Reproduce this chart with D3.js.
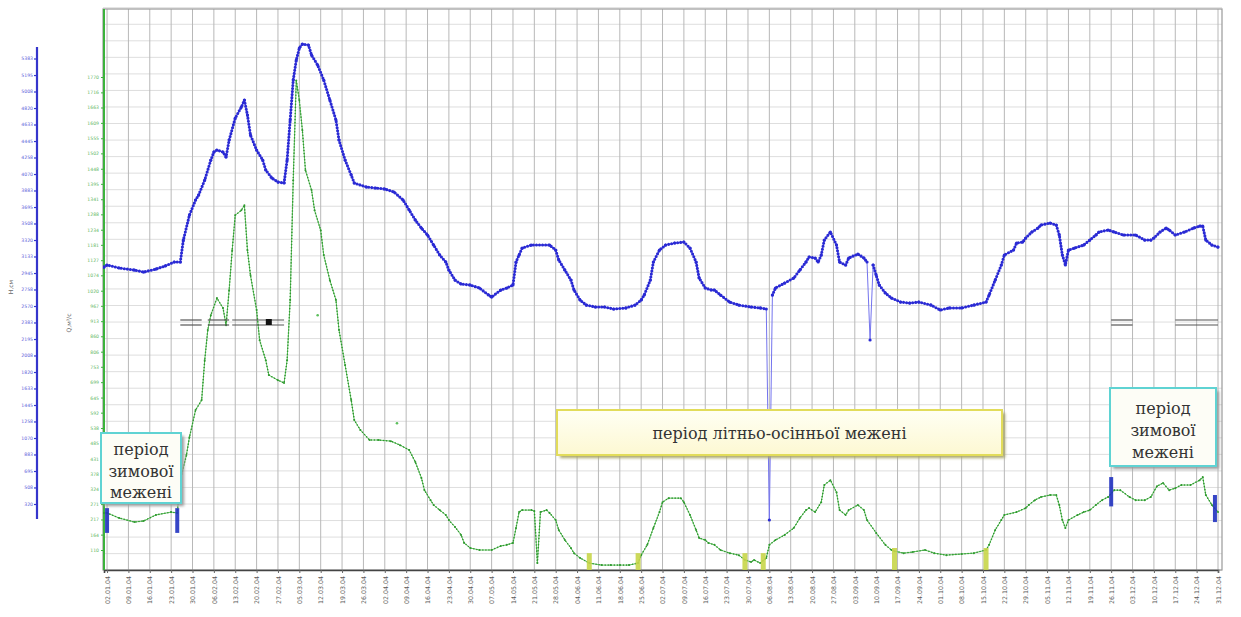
<!DOCTYPE html>
<html><head><meta charset="utf-8">
<script src="https://cdn.jsdelivr.net/npm/d3@7"></script>
<style>body{margin:0;background:#fff}svg{display:block}</style>
</head><body>
<svg id="chart" width="1241" height="617"></svg>
<script>
// Water level H, cm — day of year 2004 (0 = 1 Jan) and value
const levelDays = [0,1,5,10,13,17,20,23,25,26,28,30,31,33,35,36,37,39,40,41,43,45,46,47,48,50,52,53,55,57,59,60,61,62,63,64,65,67,68,70,72,74,76,77,79,81,82,86,89,92,95,98,100,102,104,106,108,110,112,113,115,117,120,123,126,127,130,132,134,135,136,137,140,146,148,149,151,153,154,156,158,161,164,167,171,174,176,177,179,180,182,184,187,190,192,194,195,197,199,200,202,205,208,212,215,217,218,219,220,223,226,228,230,231,233,234,235,236,238,240,241,243,244,247,249,250,251,252,253,254,256,258,261,264,267,271,274,277,281,285,289,290,292,294,295,298,299,301,302,304,306,307,310,312,313,314,315,316,318,321,323,325,326,329,331,334,338,341,343,344,346,348,349,351,354,357,359,360,361,363,365];
const levelValues = [3013,3036,3002,2979,2956,2990,3025,3070,3070,3320,3604,3775,3831,4002,4229,4320,4343,4320,4263,4456,4706,4831,4911,4740,4513,4343,4229,4115,4025,3979,3968,4229,4684,5138,5365,5502,5547,5536,5422,5309,5138,4911,4684,4456,4229,4059,3968,3922,3911,3900,3866,3775,3661,3547,3456,3377,3263,3150,3070,2979,2865,2820,2809,2775,2695,2672,2752,2775,2809,3070,3150,3229,3263,3263,3206,3093,2979,2865,2752,2638,2581,2559,2559,2536,2548,2581,2638,2695,2865,3070,3206,3263,3286,3297,3229,3070,2888,2775,2752,2752,2695,2615,2581,2559,2548,2536,138,2695,2775,2831,2888,2979,3070,3127,3115,3070,3150,3320,3411,3263,3070,3036,3115,3161,3115,3070,2184,3036,2922,2809,2718,2661,2615,2604,2615,2581,2525,2548,2548,2581,2615,2695,2865,3036,3150,3206,3286,3297,3343,3411,3456,3491,3513,3491,3377,3150,3036,3206,3229,3263,3320,3377,3411,3434,3411,3377,3377,3320,3320,3343,3411,3456,3434,3377,3411,3456,3479,3479,3320,3263,3240];

// Discharge Q, m³/s — day of year 2004 and value
const flowDays = [0,1,5,10,13,17,22,24,25,27,28,30,32,33,34,35,37,39,40,41,42,43,45,46,47,48,50,51,53,54,57,59,60,61,62,63,64,65,66,68,69,71,72,74,76,77,79,81,82,84,87,90,94,97,100,102,104,105,107,108,110,112,113,115,117,118,120,123,127,130,132,134,135,136,137,140,141,142,143,145,146,148,149,151,153,154,156,159,163,166,169,172,175,176,178,180,182,183,185,189,190,192,194,195,197,198,200,202,205,208,210,212,213,215,217,218,220,223,226,228,230,231,233,235,236,238,240,241,243,244,247,249,250,253,256,258,259,262,265,269,272,276,281,285,289,290,292,294,295,299,302,303,305,307,310,312,313,314,315,316,319,321,323,325,327,329,331,333,336,338,341,343,345,347,349,351,353,356,359,360,361,363,365];
const flowValues = [240,240,222,208,212,233,243,240,355,443,506,601,636,776,882,934,994,959,899,1022,1162,1285,1302,1320,1162,1074,952,846,776,724,706,696,776,987,1408,1758,1688,1583,1443,1373,1302,1232,1145,1057,987,882,759,636,566,531,496,496,492,478,461,419,363,320,285,268,250,233,215,191,163,135,117,110,110,124,128,135,187,243,250,250,247,64,243,250,240,215,180,145,117,99,82,64,57,57,57,57,64,92,128,187,243,278,292,292,278,233,180,152,145,135,128,110,99,92,75,68,75,64,82,128,145,163,187,222,250,257,243,278,338,355,313,250,233,250,268,250,215,170,128,110,106,99,103,110,99,92,96,99,110,128,180,215,233,243,257,268,285,296,303,303,268,215,187,215,233,243,250,268,285,296,320,320,296,285,285,296,334,345,320,327,338,338,355,366,303,268,243];

// Separate off-trend discharge readings
const flowOutlierDays = [70, 96];
const flowOutlierValues = [934, 555];

// Axis tick labels
const levelTicks = [320,508,695,883,1070,1258,1445,1633,1820,2008,2195,2383,2570,2758,2945,3133,3320,3508,3695,3883,4070,4258,4445,4633,4820,5008,5195,5383];
const flowTicks = [110,164,217,271,324,378,431,485,538,592,645,699,753,806,860,913,967,1020,1074,1127,1181,1234,1288,1341,1395,1448,1502,1555,1609,1663,1716,1770];
const dateTickLabels = ["02.01.04","09.01.04","16.01.04","23.01.04","30.01.04","06.02.04","13.02.04","20.02.04","27.02.04","05.03.04","12.03.04","19.03.04","26.03.04","02.04.04","09.04.04","16.04.04","23.04.04","30.04.04","07.05.04","14.05.04","21.05.04","28.05.04","04.06.04","11.06.04","18.06.04","25.06.04","02.07.04","09.07.04","16.07.04","23.07.04","30.07.04","06.08.04","13.08.04","20.08.04","27.08.04","03.09.04","10.09.04","17.09.04","24.09.04","01.10.04","08.10.04","15.10.04","22.10.04","29.10.04","05.11.04","12.11.04","19.11.04","26.11.04","03.12.04","10.12.04","17.12.04","24.12.04","31.12.04"];

// Low-water period captions
const winterLabel = ["період", "зимової", "межені"];
const summerLabel = "період літньо-осінньої межені";

const parseTick = d3.timeParse("%d.%m.%y");
const year0 = new Date(2004, 0, 1);
const dayDate = d => d3.timeDay.offset(year0, d);

const svg = d3.select("#chart");
const pL = 103, pR = 1222, pT = 9, pB = 570;

const x = d3.scaleTime().domain([year0, new Date(2004, 11, 31)]).range([104, 1218]);
const yLevel = d3.scaleLinear().domain([320, 5383]).range([504, 58.5]);
const yFlow = d3.scaleLinear().domain([110, 1770]).range([550, 77]);

const defs = svg.append("defs");
defs.append("filter").attr("id", "soft").attr("x", "-20%").attr("y", "-20%").attr("width", "140%").attr("height", "140%")
  .append("feGaussianBlur").attr("stdDeviation", 1.6);
defs.append("clipPath").attr("id", "plot").append("rect")
  .attr("x", pL).attr("y", pT).attr("width", pR - pL).attr("height", pB - pT + 8);
const grad = defs.append("linearGradient").attr("id", "yellowFill").attr("x1", 0).attr("y1", 0).attr("x2", 0).attr("y2", 1);
grad.append("stop").attr("offset", "0%").attr("stop-color", "#fffff4");
grad.append("stop").attr("offset", "100%").attr("stop-color", "#fdf8d2");

// Horizontal grid, one line per level step
const step = levelTicks[1] - levelTicks[0];
const gridVals = d3.range(-4, 31).map(k => levelTicks[0] + k * step);
svg.append("g").selectAll("line").data(gridVals).join("line")
  .attr("x1", pL).attr("x2", pR)
  .attr("y1", d => yLevel(d)).attr("y2", d => yLevel(d))
  .attr("stroke", "#dedede").attr("stroke-width", 1);

// Vertical grid at weekly ticks
const tickDates = dateTickLabels.map(parseTick);
svg.append("g").selectAll("line").data(tickDates).join("line")
  .attr("x1", d => x(d)).attr("x2", d => x(d))
  .attr("y1", pT).attr("y2", pB)
  .attr("stroke", "#b8b8b8").attr("stroke-width", 1);

// Plot frame
svg.append("rect").attr("x", pL).attr("y", pT).attr("width", pR - pL).attr("height", pB - pT)
  .attr("fill", "none").attr("stroke", "#9a9a9a").attr("stroke-width", 1.2);

// X axis
const xAxis = svg.append("g").attr("transform", `translate(0,${pB})`)
  .call(d3.axisBottom(x).tickValues(tickDates).tickSize(3).tickFormat(d3.timeFormat("%d.%m.%y")));
xAxis.select(".domain").attr("stroke", "#444").attr("stroke-width", 1.6);
xAxis.selectAll(".tick line").attr("stroke", "#666");
xAxis.selectAll("text")
  .attr("transform", "rotate(-90)").attr("text-anchor", "end")
  .attr("x", -6).attr("y", 0).attr("dy", "0.35em")
  .attr("font-family", "DejaVu Sans").attr("font-size", 6.3).attr("fill", "#5a5a5a");

// Level axis (blue)
const lAxis = svg.append("g").attr("transform", "translate(37,0)")
  .call(d3.axisLeft(yLevel).tickValues(levelTicks).tickSize(3).tickFormat(d3.format("d")));
lAxis.select(".domain").remove();
lAxis.append("line").attr("x1", 0).attr("x2", 0).attr("y1", 47).attr("y2", 519)
  .attr("stroke", "#3535cc").attr("stroke-width", 2.2);
lAxis.selectAll(".tick line").attr("stroke", "#3535cc").attr("stroke-width", 1.2);
lAxis.selectAll("text").attr("font-family", "DejaVu Sans").attr("font-size", 4.6).attr("fill", "#5a5ad8").attr("x", -4);

// Discharge axis (green)
const fAxis = svg.append("g").attr("transform", `translate(${pL + 1},0)`)
  .call(d3.axisLeft(yFlow).tickValues(flowTicks).tickSize(3).tickFormat(d3.format("d")));
fAxis.select(".domain").remove();
fAxis.append("line").attr("x1", 0).attr("x2", 0).attr("y1", pT).attr("y2", pB)
  .attr("stroke", "#3cb33c").attr("stroke-width", 2);
fAxis.selectAll(".tick line").attr("stroke", "#3cb33c");
fAxis.selectAll("text").attr("font-family", "DejaVu Sans").attr("font-size", 4.6).attr("fill", "#5fb75f").attr("x", -5);

// Axis titles
svg.append("text").attr("transform", "translate(13,287) rotate(-90)").attr("text-anchor", "middle")
  .attr("font-family", "DejaVu Sans").attr("font-size", 6).attr("fill", "#666").text("Н,см");
svg.append("text").attr("transform", "translate(71,323) rotate(-90)").attr("text-anchor", "middle")
  .attr("font-family", "DejaVu Sans").attr("font-size", 6).attr("fill", "#666").text("Q,м³/с");

const plot = svg.append("g").attr("clip-path", "url(#plot)");

// Discharge series: thin line with a dotted trace
const flow = flowDays.map((d, i) => ({ date: dayDate(d), v: flowValues[i] }));
const flowLine = d3.line().x(d => x(d.date)).y(d => yFlow(d.v));
plot.append("path").datum(flow).attr("d", flowLine)
  .attr("fill", "none").attr("stroke", "#62c262").attr("stroke-width", 1);
plot.append("path").datum(flow).attr("d", flowLine)
  .attr("fill", "none").attr("stroke", "#2f962f").attr("stroke-width", 1.6)
  .attr("stroke-linecap", "round").attr("stroke-dasharray", "0,3.05");
plot.append("g").selectAll("circle").data(flow).join("circle")
  .attr("cx", d => x(d.date)).attr("cy", d => yFlow(d.v)).attr("r", 1).attr("fill", "#2f9a2f");
plot.append("g").selectAll("circle").data(flowOutlierDays).join("circle")
  .attr("cx", (d) => x(dayDate(d))).attr("cy", (d, i) => yFlow(flowOutlierValues[i]))
  .attr("r", 1.3).attr("fill", "#5cbf5c");

// Level series: chain of dots; single-day drops keep only the thin connector
const level = levelDays.map((d, i) => ({ date: dayDate(d), v: levelValues[i] }));
level.forEach((p, i) => {
  const a = level[i - 1], b = level[i + 1];
  p.drop = !!(a && b && a.v - p.v > 500 && b.v - p.v > 500);
});
const levelLine = d3.line().x(d => x(d.date)).y(d => yLevel(d.v));
plot.append("path").datum(level).attr("d", levelLine)
  .attr("fill", "none").attr("stroke", "#7474ee").attr("stroke-width", 1);
plot.append("path").datum(level).attr("d", levelLine.defined(d => !d.drop))
  .attr("fill", "none").attr("stroke", "#2a2ad4").attr("stroke-width", 3.1)
  .attr("stroke-linecap", "round").attr("stroke-dasharray", "0,3.05");
plot.append("g").selectAll("circle").data(level).join("circle")
  .attr("cx", d => x(d.date)).attr("cy", d => yLevel(d.v)).attr("r", 1.6).attr("fill", "#2a2ad4");

// Low-water period boundary markers
const bar = (d, v0, v1, color, w, scale) => svg.append("line")
  .attr("x1", x(dayDate(d))).attr("x2", x(dayDate(d)))
  .attr("y1", scale(v0)).attr("y2", scale(v1))
  .attr("stroke", color).attr("stroke-width", w).attr("opacity", 0.9);
[[1, 257, 170], [24, 257, 170], [330, 366, 263], [364, 303, 208]]
  .forEach(([d, a, b]) => bar(d, a, b, "#2233c0", 4, yFlow));
[[159, 99, 40], [175, 99, 40], [210, 99, 40], [216, 99, 40], [259, 117, 40], [289, 117, 40]]
  .forEach(([d, a, b]) => bar(d, a, b, "#c8d64a", 5, yFlow));

// Break marks on the level line
const breakMarks = [[25, 32], [34, 41], [42, 59], [330, 337], [351, 365]];
breakMarks.forEach(([a, b]) => {
  [320, 325].forEach(yy => svg.append("line")
    .attr("x1", x(dayDate(a))).attr("x2", x(dayDate(b))).attr("y1", yy).attr("y2", yy)
    .attr("stroke", "#555").attr("stroke-width", 1.2));
});
svg.append("rect").attr("x", x(dayDate(54)) - 3).attr("y", 319).attr("width", 6).attr("height", 6).attr("fill", "#111");

// Caption boxes
function captionBox(x0, y0, w, h, stroke, fill, shadow, lines, lineGap, shiftY) {
  const g = svg.append("g");
  g.append("rect").attr("x", x0 + 3).attr("y", y0 + 3).attr("width", w).attr("height", h)
    .attr("fill", shadow).attr("filter", "url(#soft)");
  g.append("rect").attr("x", x0).attr("y", y0).attr("width", w).attr("height", h)
    .attr("fill", fill).attr("stroke", stroke).attr("stroke-width", 2);
  const cy = y0 + h / 2 - (lines.length - 1) * lineGap / 2 + shiftY;
  lines.forEach((t, i) => g.append("text")
    .attr("x", x0 + w / 2).attr("y", cy + i * lineGap).attr("dy", "0.35em")
    .attr("text-anchor", "middle").attr("font-family", "DejaVu Serif").attr("font-size", 16)
    .attr("fill", "#333").text(t));
}
captionBox(101, 433, 80, 70, "#5fd3d3", "#fdfdf6", "#9a9a9a", winterLabel, 21.5, 3);
captionBox(1110, 388, 106, 78, "#5fd3d3", "#fdfdf6", "#9a9a9a", winterLabel, 22, 3);
captionBox(557, 410, 445, 45, "#e2dc5a", "url(#yellowFill)", "#a9a66a", [summerLabel], 0, 1);
</script>
</body></html>
